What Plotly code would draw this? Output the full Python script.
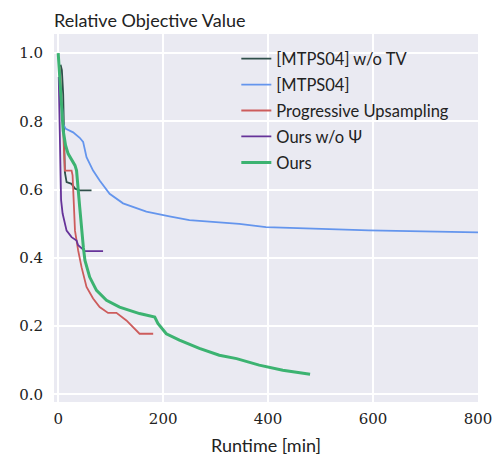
import plotly.graph_objects as go

# Data (runtime in minutes, relative objective value)
mtps_notv_t = [4.5, 7, 9.5, 11, 12.7, 16, 25.5, 32, 41, 63.5]
mtps_notv_v = [0.966, 0.95, 0.88, 0.78, 0.651, 0.622, 0.617, 0.603, 0.598, 0.598]

mtps_t = [2, 6, 10, 14.6, 28.5, 41, 47.5, 54, 66.5, 79, 98, 123.6, 155, 168, 212, 250, 345, 396, 592, 800]
mtps_v = [0.95, 0.87, 0.79, 0.778, 0.768, 0.752, 0.74, 0.695, 0.656, 0.627, 0.588, 0.56, 0.542, 0.536, 0.522, 0.511, 0.50, 0.49, 0.481, 0.475]

prog_t = [3, 6, 9.5, 12.7, 25.5, 27.4, 32, 38, 44.5, 54, 66.5, 79, 95, 111, 130, 155, 181]
prog_v = [0.96, 0.88, 0.773, 0.656, 0.656, 0.642, 0.48, 0.422, 0.373, 0.315, 0.281, 0.256, 0.239, 0.239, 0.217, 0.178, 0.178]

nopsi_t = [1, 3, 3.5, 5.5, 8.4, 16, 25.5, 35, 38, 44.5, 51, 85.5]
nopsi_v = [0.93, 0.77, 0.63, 0.57, 0.53, 0.48, 0.461, 0.451, 0.437, 0.427, 0.42, 0.42]

ours_t = [0, 2, 4.5, 7, 9.5, 14, 19, 32, 35, 41, 44.5, 48, 51, 60, 73, 92, 117, 155, 184, 190, 206, 231, 269, 307, 340, 383, 428, 480]
ours_v = [1.0, 0.95, 0.89, 0.81, 0.773, 0.73, 0.705, 0.671, 0.656, 0.549, 0.48, 0.43, 0.393, 0.344, 0.305, 0.276, 0.256, 0.237, 0.227, 0.208, 0.178, 0.159, 0.135, 0.115, 0.105, 0.086, 0.071, 0.059]

x_ticks = [0, 200, 400, 600, 800]
y_ticks = [0.0, 0.2, 0.4, 0.6, 0.8, 1.0]

series = [
    ("[MTPS04] w/o TV", mtps_notv_t, mtps_notv_v, "#2f4f4a", 1.8),
    ("[MTPS04]", mtps_t, mtps_v, "#6495ED", 1.8),
    ("Progressive Upsampling", prog_t, prog_v, "#CD5C5C", 1.8),
    ("Ours w/o Ψ", nopsi_t, nopsi_v, "#663399", 1.8),
    ("Ours", ours_t, ours_v, "#3CB371", 3.0),
]

SANS = "Lato"
SERIF = "DejaVu Serif"

fig = go.Figure()
for i, (name, t, v, c, w) in enumerate(series):
    fig.add_trace(go.Scatter(x=t, y=v, mode="lines", name=name,
                             legendgroup=f"g{i}",
                             line=dict(color=c, width=w)))

# page body has an 8px margin, so the figure is 8px smaller and offsets shifted
fig.update_layout(
    width=493, height=453,
    margin=dict(l=46, r=23, t=26, b=59),
    plot_bgcolor="#EAEAF2",
    paper_bgcolor="white",
    title=dict(text="Relative Objective Value", x=46/493, xanchor="left",
               y=1 - 19/453, yanchor="bottom",
               font=dict(family=SANS, size=18, color="#222")),
    legend=dict(x=0.43, y=0.98, xanchor="left", yanchor="top",
                bgcolor="rgba(0,0,0,0)", tracegroupgap=1.5,
                font=dict(family=SANS, size=16.5, color="#222")),
    showlegend=True,
)
fig.update_xaxes(range=[-8, 800], tickvals=x_ticks, ticktext=[str(x) for x in x_ticks],
                 showgrid=True, gridcolor="white", gridwidth=1.5,
                 zeroline=False, showline=False, ticks="", automargin=False,
                 ticklabelstandoff=6,
                 tickfont=dict(family=SERIF, size=15, color="#222"),
                 title=dict(text="Runtime [min]", standoff=12,
                            font=dict(family=SANS, size=18, color="#222")))
fig.update_yaxes(range=[-0.022, 1.056], tickvals=y_ticks, ticktext=[f"{y:.1f}" for y in y_ticks],
                 showgrid=True, gridcolor="white", gridwidth=1.5,
                 zeroline=False, showline=False, ticks="", automargin=False,
                 ticklabelstandoff=10,
                 tickfont=dict(family=SERIF, size=15, color="#222"))

fig.write_html("out.html")
